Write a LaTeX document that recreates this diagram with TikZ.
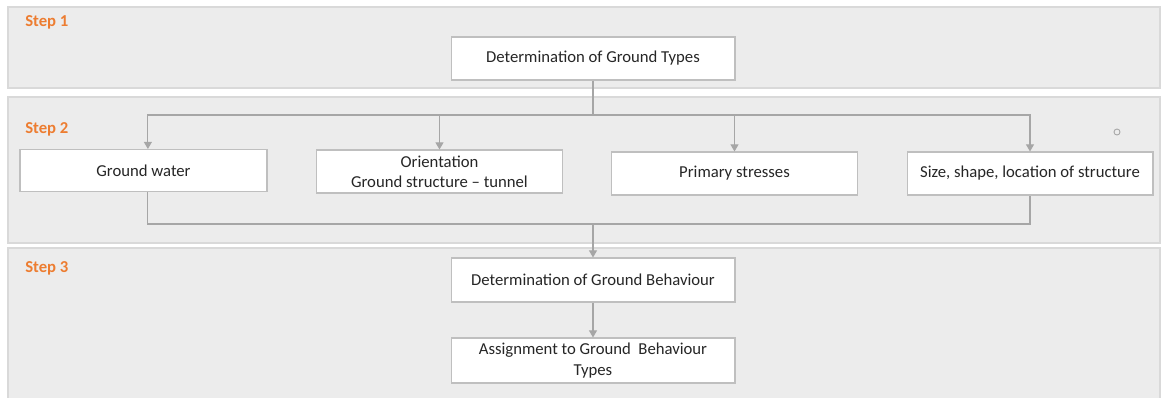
\documentclass[tikz,border=0pt]{standalone}
\usepackage{fontspec}
\setmainfont{Carlito}
\usetikzlibrary{arrows.meta}
\definecolor{panelgray}{HTML}{ECECEC}
\definecolor{paneledge}{HTML}{D9D9D9}
\definecolor{boxedge}{HTML}{BFBFBF}
\definecolor{linkgray}{HTML}{A6A6A6}
\definecolor{steporange}{HTML}{ED7D31}
\definecolor{inkdark}{HTML}{262626}
\tikzset{
  panel/.style={fill=panelgray,draw=paneledge,line width=0.6pt},
  steplabel/.style={text=steporange,font=\fontsize{9.5}{11}\selectfont\bfseries,anchor=west,inner sep=0pt},
  stagebox/.style={draw=boxedge,fill=white,line width=0.6pt,align=center,text=inkdark,
    font=\fontsize{9.5}{11.3}\selectfont,inner sep=0pt},
  link/.style={draw=linkgray,line width=0.6pt},
  arr/.style={link,-{Triangle[width=4.5pt,length=4pt]}}
}
\begin{document}
\begin{tikzpicture}[x=0.02cm,y=-0.02cm]
      \useasboundingbox (0,0) rectangle (1161,397);
      % step panels
      \filldraw[panel] (8,7) rectangle (1160,88);
      \filldraw[panel] (8,97) rectangle (1160,243);
      \filldraw[panel] (8,248) rectangle (1160,399);
      \node[steplabel] (s1) at (25,22) {Step 1};
      \node[steplabel] (s2) at (25,129) {Step 2};
      \node[steplabel] (s3) at (25,268) {Step 3};
      % boxes
      \node[stagebox,minimum width=5.68cm,minimum height=0.86cm] (types) at (593,58.5) {Determination of Ground Types};
      \node[stagebox,minimum width=4.94cm,minimum height=0.84cm] (water) at (143.5,170.5) {Ground water};
      \node[stagebox,minimum width=4.92cm,minimum height=0.86cm] (orient) at (439.5,171.5) {Orientation\\Ground structure -- tunnel};
      \node[stagebox,minimum width=4.92cm,minimum height=0.86cm] (stress) at (734.5,173.5) {Primary stresses};
      \node[stagebox,minimum width=4.92cm,minimum height=0.86cm] (size) at (1030,173.5) {Size, shape, location of structure};
      \node[stagebox,minimum width=5.68cm,minimum height=0.88cm] (behav) at (593,280) {Determination of Ground Behaviour};
      \node[stagebox,minimum width=5.68cm,minimum height=0.9cm,font=\fontsize{9.5}{12}\selectfont] (assign) at (593,360.5) {Assignment to Ground\ \ Behaviour\\Types};
      % connectors
      \coordinate (split) at (593,115);
      \coordinate (merge) at (593,224);
      \draw[link] (types.south) -- (split);
      \draw[arr] (split) -| ([xshift=2.5]water.north);
      \draw[arr] (split) -| (orient.north);
      \draw[arr] (split) -| (stress.north);
      \draw[arr] (split) -| (size.north);
      \draw[link] ([xshift=2.5]water.south) |- (merge) -| (size.south);
      \draw[arr] (merge) -- (behav.north);
      \draw[arr] (behav.south) -- (assign.north);
      \draw[draw=linkgray,line width=0.5pt] (1117,132) circle[radius=3];
    \end{tikzpicture}
\end{document}
